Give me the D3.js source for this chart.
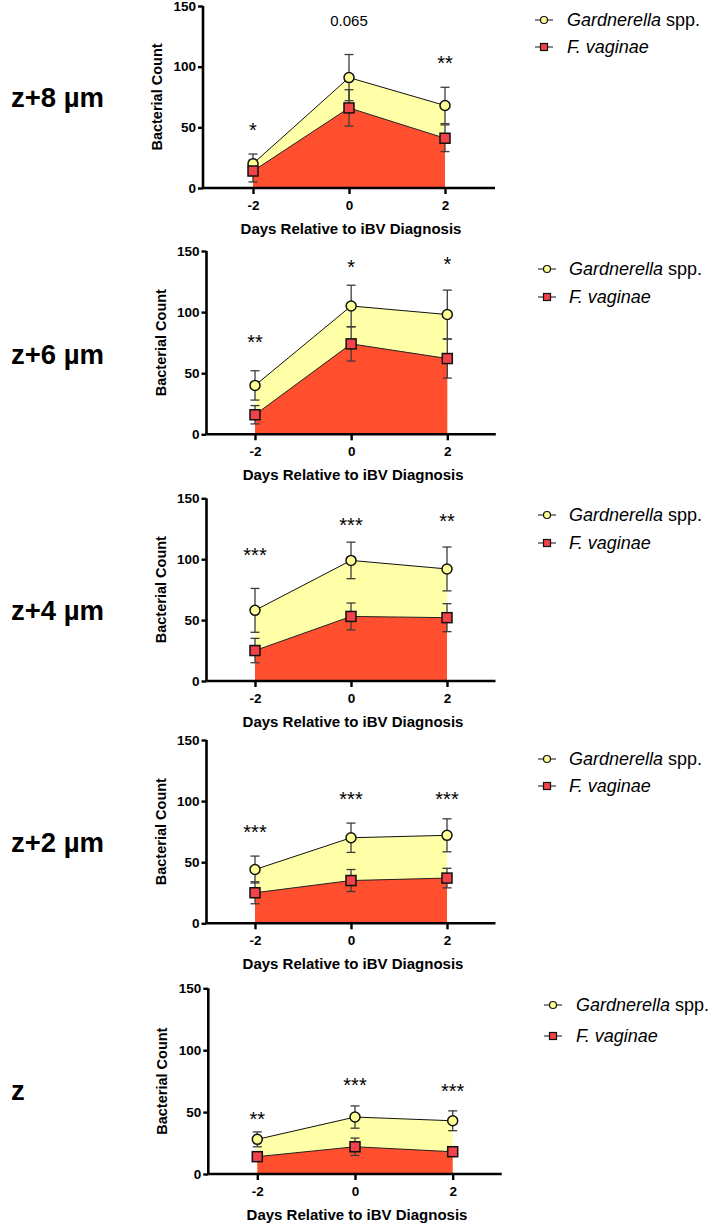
<!DOCTYPE html>
<html>
<head>
<meta charset="utf-8">
<script src="https://cdn.jsdelivr.net/npm/d3@7"></script>
<style>
  body { margin: 0; background: #fff; }
  svg { display: block; font-family: "Liberation Sans", Arial, sans-serif; }
</style>
</head>
<body>
<div id="chart"></div>
<script>
// data
var days = [-2, 0, 2]
var panelTitles = ['z+8 µm', 'z+6 µm', 'z+4 µm', 'z+2 µm', 'z']
var seriesNames = ['Gardnerella', 'F. vaginae']

var gardMean = [[20, 91, 68], [40, 105, 98], [58, 99, 92], [44, 70, 72], [28, 46, 43]]
var gardErr = [[8, 19, 15], [12, 17, 20], [18, 15, 18], [11, 12, 13.5], [6, 9, 8]]
var fvMean = [[14, 66, 41], [16, 74, 62], [25, 53, 52], [25, 35, 37], [14, 22, 18]]
var fvErr = [[9, 15, 11], [7.5, 14, 16], [10, 11, 11.5], [9, 9, 8], [3, 7, 2]]
var sigText = [['*', '0.065', '**'], ['**', '*', '*'], ['***', '***', '**'], ['***', '***', '***'], ['**', '***', '***']]
var sigY = [[51, 138, 106], [79, 140, 143], [107, 131, 135], [78, 105, 105], [48, 75, 70]]
var yTicks = [0, 50, 100, 150]

// layout of each panel (pixels)
var layout = [
  {left: 203, xa: 253, xb: 445, top: 6, bottom: 188, title: 107, legX: 544, legY: [20, 47], textX: 567},
  {left: 206.5, xa: 255, xb: 447.3, top: 251, bottom: 434.3, title: 364, legX: 547, legY: [269, 297], textX: 569},
  {left: 206.5, xa: 255, xb: 447, top: 498.3, bottom: 681, title: 620, legX: 547, legY: [515, 543], textX: 569},
  {left: 206.5, xa: 255, xb: 447, top: 740, bottom: 923.3, title: 852, legX: 547, legY: [759, 786], textX: 569},
  {left: 208.3, xa: 257.3, xb: 452.7, top: 988.3, bottom: 1174, title: 1100, legX: 553, legY: [1005, 1036], textX: 576}
]

var yellowArea = '#ffffa8', redArea = '#ff4f2f'
var yellowDot = '#ffff96', redDot = '#f0434a'
var errColor = '#3c3c3c'

var svg = d3.select('#chart').append('svg')
  .attr('width', 727)
  .attr('height', 1225)

svg.append('rect').attr('width', 727).attr('height', 1225).attr('fill', '#fff')

layout.forEach(function(L, p) {
  var x = d3.scaleLinear().domain([-2, 2]).range([L.xa, L.xb])
  var y = d3.scaleLinear().domain([0, 150]).range([L.bottom, L.top])
  var g = svg.append('g').attr('class', 'panel-' + p)

  var gd = days.map((d, i) => ({d: d, m: gardMean[p][i], e: gardErr[p][i]}))
  var fd = days.map((d, i) => ({d: d, m: fvMean[p][i], e: fvErr[p][i]}))

  var area = d3.area().x(d => x(d.d)).y0(y(0)).y1(d => y(d.m))
  var line = d3.line().x(d => x(d.d)).y(d => y(d.m))

  g.append('path').attr('d', area(gd)).attr('fill', yellowArea)
  g.append('path').attr('d', area(fd)).attr('fill', redArea)
  g.append('path').attr('d', line(gd)).attr('fill', 'none').attr('stroke', '#111').attr('stroke-width', 1)
  g.append('path').attr('d', line(fd)).attr('fill', 'none').attr('stroke', '#222').attr('stroke-width', 1)

  // error bars
  function errBars(data) {
    var eb = g.append('g').attr('stroke', errColor).attr('stroke-width', 1.3)
    data.forEach(function(d) {
      var cx = x(d.d)
      eb.append('line').attr('x1', cx).attr('x2', cx).attr('y1', y(d.m - d.e)).attr('y2', y(d.m + d.e))
      ;[d.m - d.e, d.m + d.e].forEach(function(v) {
        eb.append('line').attr('x1', cx - 4.5).attr('x2', cx + 4.5).attr('y1', y(v)).attr('y2', y(v))
      })
    })
  }
  errBars(gd)
  errBars(fd)

  g.selectAll('circle.gard').data(gd).enter().append('circle')
    .attr('cx', d => x(d.d)).attr('cy', d => y(d.m)).attr('r', 5)
    .attr('fill', yellowDot).attr('stroke', '#111').attr('stroke-width', 1.5)
  g.selectAll('rect.fv').data(fd).enter().append('rect')
    .attr('x', d => x(d.d) - 5).attr('y', d => y(d.m) - 5).attr('width', 10).attr('height', 10)
    .attr('fill', redDot).attr('stroke', '#111').attr('stroke-width', 1.5)

  // axes
  var xEnd = -x.invert(L.left)
  var xAxis = d3.axisBottom(x).tickValues(days).tickSize(6).tickFormat(d => String(d))
  var xg = g.append('g').attr('transform', `translate(0,${L.bottom})`).call(xAxis)
  xg.select('.domain').attr('d', `M${L.left},0H${x(xEnd)}`)
  var yAxis = d3.axisLeft(y).tickValues(yTicks).tickSize(5)
  var yg = g.append('g').attr('transform', `translate(${L.left},0)`).call(yAxis)
  yg.select('.domain').attr('d', `M0,${L.top}V${L.bottom}`)

  ;[xg, yg].forEach(function(a) {
    a.select('.domain').attr('stroke', '#000').attr('stroke-width', 2.6)
    a.selectAll('.tick line').attr('stroke', '#000').attr('stroke-width', 2.4)
    a.selectAll('.tick text').attr('fill', '#000').style('font-size', '13.5px').style('font-weight', 'bold')
      .style('font-family', '"Liberation Sans", Arial, sans-serif')
  })
  xg.selectAll('.tick text').attr('y', 12)
  yg.selectAll('.tick text').attr('x', -7)

  g.append('text')
    .attr('x', (L.left + x(xEnd)) / 2 + 2).attr('y', L.bottom + 46)
    .attr('text-anchor', 'middle').style('font-size', '15px').style('font-weight', 'bold')
    .text('Days Relative to iBV Diagnosis')

  g.append('text')
    .attr('transform', `translate(${L.left - 41},${(L.top + L.bottom) / 2}) rotate(-90)`)
    .attr('text-anchor', 'middle').style('font-size', '14.5px').style('font-weight', 'bold')
    .text('Bacterial Count')

  // significance labels
  sigText[p].forEach(function(t, i) {
    var star = t.indexOf('*') === 0
    g.append('text')
      .attr('x', x(days[i])).attr('y', y(sigY[p][i]) + (star ? 11 : 5.5))
      .attr('text-anchor', 'middle')
      .style('font-size', star ? '20px' : '15px')
      .text(t)
  })

  // panel title
  svg.append('text')
    .attr('x', 11).attr('y', L.title)
    .style('font-size', '27.5px').style('font-weight', 'bold')
    .text(panelTitles[p])

  // legend
  var lg = svg.append('g')
  L.legY.forEach(function(ly, k) {
    lg.append('line').attr('x1', L.legX - 9).attr('x2', L.legX + 9).attr('y1', ly).attr('y2', ly)
      .attr('stroke', '#111').attr('stroke-width', 1)
    if (k === 0) {
      lg.append('circle').attr('cx', L.legX).attr('cy', ly).attr('r', 3.5)
        .attr('fill', yellowDot).attr('stroke', '#111').attr('stroke-width', 1.2)
    } else {
      lg.append('rect').attr('x', L.legX - 3.5).attr('y', ly - 3.5).attr('width', 7).attr('height', 7)
        .attr('fill', redDot).attr('stroke', '#111').attr('stroke-width', 1.2)
    }
    var t = lg.append('text').attr('x', L.textX).attr('y', ly + 6).style('font-size', '18px')
    if (k === 0) {
      t.append('tspan').style('font-style', 'italic').text(seriesNames[0])
      t.append('tspan').text(' spp.')
    } else {
      t.append('tspan').style('font-style', 'italic').text(seriesNames[1])
    }
  })
})
</script>
</body>
</html>
